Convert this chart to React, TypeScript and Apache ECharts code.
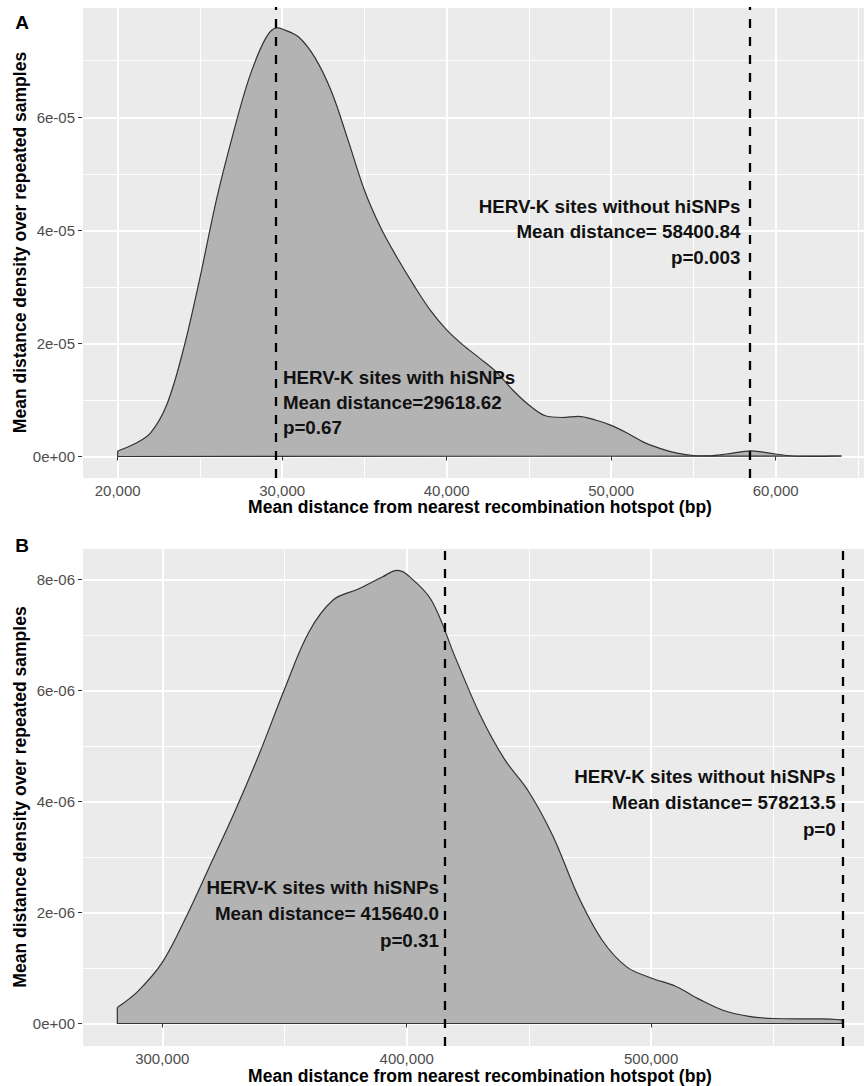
import React, { useEffect, useRef } from 'react';
import * as echarts from 'echarts';

// ---------- data ----------
// Panel A: density of mean distance (HERV-K sites with hiSNPs)
const distA = [
  20000, 21000, 22000, 23000, 24000, 25000, 26000, 27000, 28000, 29000, 29700,
  30000, 31000, 32000, 33000, 34000, 35000, 36000, 37000, 38000, 39000,
  40000, 41000, 42000, 43000, 44000, 45000, 46000, 47000, 48000, 49000,
  50000, 51000, 52000, 53000, 54000, 55000, 56000, 57000, 58000, 58500, 59000,
  60000, 61000, 62000, 63000, 64000,
];
const densA = [
  0.097e-5, 0.22e-5, 0.42e-5, 0.93e-5, 1.9e-5, 3.16e-5, 4.54e-5, 5.69e-5, 6.7e-5, 7.4e-5, 7.58e-5,
  7.56e-5, 7.42e-5, 7.05e-5, 6.45e-5, 5.6e-5, 4.71e-5, 4.04e-5, 3.51e-5, 3.03e-5, 2.59e-5,
  2.24e-5, 1.97e-5, 1.74e-5, 1.5e-5, 1.18e-5, 0.91e-5, 0.72e-5, 0.69e-5, 0.71e-5, 0.65e-5,
  0.55e-5, 0.41e-5, 0.25e-5, 0.14e-5, 0.06e-5, 0.018e-5, 0.012e-5, 0.044e-5, 0.088e-5, 0.1e-5, 0.088e-5,
  0.044e-5, 0.009e-5, 0.002e-5, 0.004e-5, 0.009e-5,
];

// Panel B
const distB = [
  281600, 290000, 300000, 310000, 320000, 330000, 340000, 350000, 360000, 370000,
  380000, 390000, 396000, 400000, 410000, 420000, 430000, 440000, 450000, 460000,
  470000, 480000, 490000, 500000, 510000, 520000, 530000, 540000, 550000, 560000,
  570000, 578200,
];
const densB = [
  0.29e-6, 0.58e-6, 1.1e-6, 1.94e-6, 2.89e-6, 3.85e-6, 4.89e-6, 6.02e-6, 7.05e-6, 7.63e-6,
  7.82e-6, 8.04e-6, 8.16e-6, 8.09e-6, 7.63e-6, 6.58e-6, 5.56e-6, 4.76e-6, 4.17e-6, 3.36e-6,
  2.31e-6, 1.5e-6, 1.02e-6, 0.82e-6, 0.67e-6, 0.43e-6, 0.23e-6, 0.13e-6, 0.09e-6, 0.085e-6,
  0.085e-6, 0.065e-6,
];

const meanWithA = 29618.62;
const meanWithoutA = 58400.84;
const meanWithB = 415640.0;
const meanWithoutB = 578213.5;
const pWithA = '0.67';
const pWithoutA = '0.003';
const pWithB = '0.31';
const pWithoutB = '0';

const xTicksA = [20000, 30000, 40000, 50000, 60000];
const yTicksA = [0, 2e-5, 4e-5, 6e-5];
const xTicksB = [300000, 400000, 500000];
const yTicksB = [0, 2e-6, 4e-6, 6e-6, 8e-6];

const xTitle = 'Mean distance from nearest recombination hotspot (bp)';
const yTitle = 'Mean distance density over repeated samples';

// ---------- helpers ----------
const FONT = '"Liberation Sans", Arial, Helvetica, sans-serif';

const isTick = (ticks: number[], v: number) =>
  ticks.some((t) => Math.abs(t - v) <= Math.abs(t) * 1e-6 + 1e-15);

const fmtComma = (v: number) => String(Math.round(v)).replace(/\B(?=(\d{3})+(?!\d))/g, ',');
const fmtSci = (v: number) => {
  if (Math.abs(v) < 1e-15) return '0e+00';
  const e = Math.floor(Math.log10(Math.abs(v)) + 1e-9);
  const m = Math.round(v / Math.pow(10, e));
  return `${m}e${e < 0 ? '-' : '+'}${String(Math.abs(e)).padStart(2, '0')}`;
};

function majorAxis(dim: 'x' | 'y', gridIndex: number, min: number, max: number, splitNumber: number, ticks: number[]) {
  return {
    type: 'value',
    gridIndex,
    min,
    max,
    splitNumber,
    position: dim === 'x' ? 'bottom' : 'left',
    axisLine: { show: false },
    axisTick: { show: true, length: 4, lineStyle: { color: '#333', width: 1 }, customValues: ticks },
    axisLabel: {
      show: true,
      margin: dim === 'x' ? 5 : 7,
      color: '#4d4d4d',
      fontSize: 15,
      fontFamily: FONT,
      customValues: ticks,
      formatter: (v: number) => (isTick(ticks, v) ? (dim === 'x' ? fmtComma(v) : fmtSci(v)) : ''),
    },
    splitLine: { show: true, lineStyle: { color: '#ffffff', width: 2 } },
  };
}

function minorAxis(dim: 'x' | 'y', gridIndex: number, min: number, max: number, splitNumber: number) {
  return {
    type: 'value',
    gridIndex,
    min,
    max,
    splitNumber,
    position: dim === 'x' ? 'bottom' : 'left',
    axisLine: { show: false },
    axisTick: { show: false },
    axisLabel: { show: false },
    splitLine: { show: true, lineStyle: { color: '#ffffff', width: 1 } },
  };
}

function densitySeries(xs: number[], ys: number[], xi: number, yi: number, means: number[]) {
  const n = xs.length;
  return [
    {
      type: 'line',
      xAxisIndex: xi,
      yAxisIndex: yi,
      data: xs.map((x, i) => [x, ys[i]]),
      smooth: 0.35,
      symbol: 'none',
      showSymbol: false,
      silent: true,
      lineStyle: { color: '#333333', width: 1.2 },
      areaStyle: { color: '#b3b3b3', opacity: 1 },
      z: 2,
    },
    {
      type: 'line',
      xAxisIndex: xi,
      yAxisIndex: yi,
      data: [
        [xs[n - 1], ys[n - 1]],
        [xs[n - 1], 0],
        [xs[0], 0],
        [xs[0], ys[0]],
      ],
      smooth: false,
      symbol: 'none',
      showSymbol: false,
      silent: true,
      lineStyle: { color: '#333333', width: 1.2 },
      z: 3,
      markLine: {
        silent: true,
        symbol: ['none', 'none'],
        label: { show: false },
        lineStyle: { color: '#000000', width: 2.3, type: [9, 9] },
        data: means.map((m) => ({ xAxis: m })),
      },
    },
  ];
}

export default function App() {
  const ref = useRef<HTMLDivElement>(null);

  useEffect(() => {
    if (!ref.current) return;
    const chart = echarts.init(ref.current, null, { renderer: 'svg' });

    const option: any = {
      animation: false,
      backgroundColor: '#ffffff',
      grid: [
        { left: 82, top: 7, width: 782, height: 471, show: true, backgroundColor: '#EBEBEB', borderWidth: 0 },
        { left: 82, top: 548, width: 782, height: 498, show: true, backgroundColor: '#EBEBEB', borderWidth: 0 },
      ],
      xAxis: [
        majorAxis('x', 0, 17830, 65370, 5, xTicksA),
        minorAxis('x', 0, 17830, 65370, 10),
        majorAxis('x', 1, 267150, 587100, 3, xTicksB),
        minorAxis('x', 1, 267150, 587100, 6),
      ],
      yAxis: [
        majorAxis('y', 0, -0.38e-5, 7.95e-5, 4, yTicksA),
        minorAxis('y', 0, -0.38e-5, 7.95e-5, 8),
        majorAxis('y', 1, -0.405e-6, 8.563e-6, 4, yTicksB),
        minorAxis('y', 1, -0.405e-6, 8.563e-6, 8),
      ],
      series: [
        ...densitySeries(distA, densA, 0, 0, [meanWithA, meanWithoutA]),
        ...densitySeries(distB, densB, 2, 2, [meanWithB, meanWithoutB]),
      ],
    };
    chart.setOption(option);

    const px = (xi: number, v: number) => chart.convertToPixel({ xAxisIndex: xi } as any, v) as number;

    const annFont = { fontSize: 18.8, fontWeight: 'bold', fontFamily: FONT, fill: '#111111' };
    const lines = (texts: string[], x: number, ys: number[], align: string) =>
      texts.map((t, i) => ({
        type: 'text',
        silent: true,
        z: 100,
        style: { text: t, x, y: ys[i], align, verticalAlign: 'middle', ...annFont },
      }));

    const graphic: any[] = [
      ...lines(
        ['HERV-K sites with hiSNPs', `Mean distance=${meanWithA}`, `p=${pWithA}`],
        px(0, meanWithA) + 7,
        [377, 402, 427],
        'left'
      ),
      ...lines(
        ['HERV-K sites without hiSNPs', `Mean distance= ${meanWithoutA}`, `p=${pWithoutA}`],
        px(0, meanWithoutA) - 9,
        [206, 231.5, 257],
        'right'
      ),
      ...lines(
        ['HERV-K sites with hiSNPs', `Mean distance= ${meanWithB.toFixed(1)}`, `p=${pWithB}`],
        px(2, meanWithB) - 6,
        [887, 913.5, 940],
        'right'
      ),
      ...lines(
        ['HERV-K sites without hiSNPs', `Mean distance= ${meanWithoutB}`, `p=${pWithoutB}`],
        px(2, meanWithoutB) - 6.5,
        [776.5, 802, 829],
        'right'
      ),
      // axis titles
      ...[507, 1076].map((y) => ({
        type: 'text',
        silent: true,
        style: { text: xTitle, x: 480, y, align: 'center', verticalAlign: 'middle', fontSize: 17.5, fontWeight: 'bold', fontFamily: FONT, fill: '#000' },
      })),
      ...[242.5, 797].map((y) => ({
        type: 'text',
        silent: true,
        x: 19.5,
        y,
        rotation: Math.PI / 2,
        style: { text: yTitle, x: 0, y: 0, align: 'center', verticalAlign: 'middle', fontSize: 17.5, fontWeight: 'bold', fontFamily: FONT, fill: '#000' },
      })),
      // panel tags
      { type: 'text', silent: true, style: { text: 'A', x: 22, y: 22, align: 'center', verticalAlign: 'middle', fontSize: 19, fontWeight: 'bold', fontFamily: FONT, fill: '#000' } },
      { type: 'text', silent: true, style: { text: 'B', x: 22, y: 545, align: 'center', verticalAlign: 'middle', fontSize: 19, fontWeight: 'bold', fontFamily: FONT, fill: '#000' } },
    ];
    chart.setOption({ graphic });

    return () => chart.dispose();
  }, []);

  return (
    <div
      ref={ref}
      style={{ position: 'absolute', left: 0, top: 0, width: 864, height: 1086, background: '#fff' }}
    />
  );
}
